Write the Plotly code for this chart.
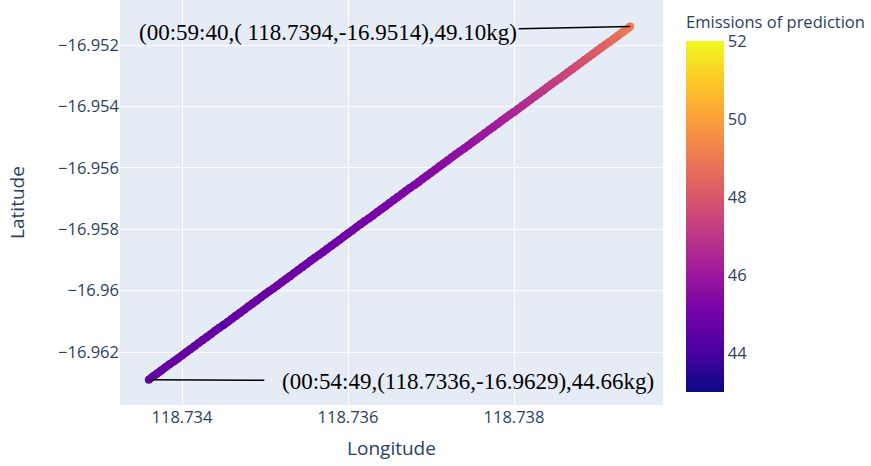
import plotly.graph_objects as go
from plotly.colors import sample_colorscale

# Track segment: longitude / latitude fixes and predicted emissions (kg)
longitude = [
    118.73360, 118.73365, 118.73370, 118.73375, 118.73380, 118.73385, 118.73390, 118.73395,
    118.73400, 118.73405, 118.73410, 118.73415, 118.73420, 118.73425, 118.73430, 118.73435,
    118.73440, 118.73445, 118.73450, 118.73455, 118.73460, 118.73465, 118.73470, 118.73475,
    118.73480, 118.73485, 118.73490, 118.73495, 118.73500, 118.73505, 118.73510, 118.73515,
    118.73520, 118.73525, 118.73530, 118.73535, 118.73540, 118.73545, 118.73550, 118.73555,
    118.73560, 118.73565, 118.73570, 118.73575, 118.73580, 118.73585, 118.73590, 118.73595,
    118.73600, 118.73605, 118.73610, 118.73615, 118.73620, 118.73625, 118.73630, 118.73635,
    118.73640, 118.73645, 118.73650, 118.73655, 118.73660, 118.73665, 118.73670, 118.73675,
    118.73680, 118.73685, 118.73690, 118.73695, 118.73700, 118.73705, 118.73710, 118.73715,
    118.73720, 118.73725, 118.73730, 118.73735, 118.73740, 118.73745, 118.73750, 118.73755,
    118.73760, 118.73765, 118.73770, 118.73775, 118.73780, 118.73785, 118.73790, 118.73795,
    118.73800, 118.73805, 118.73810, 118.73815, 118.73820, 118.73825, 118.73830, 118.73835,
    118.73840, 118.73845, 118.73850, 118.73855, 118.73860, 118.73865, 118.73870, 118.73875,
    118.73880, 118.73885, 118.73890, 118.73895, 118.73900, 118.73905, 118.73910, 118.73915,
    118.73920, 118.73925, 118.73930, 118.73935, 118.73940,
]

latitude = [
    -16.96290, -16.96280, -16.96270, -16.96260, -16.96250, -16.96240, -16.96231, -16.96221,
    -16.96211, -16.96201, -16.96191, -16.96181, -16.96171, -16.96161, -16.96151, -16.96141,
    -16.96131, -16.96121, -16.96112, -16.96102, -16.96092, -16.96082, -16.96072, -16.96062,
    -16.96052, -16.96042, -16.96032, -16.96022, -16.96012, -16.96002, -16.95993, -16.95983,
    -16.95973, -16.95963, -16.95953, -16.95943, -16.95933, -16.95923, -16.95913, -16.95903,
    -16.95893, -16.95884, -16.95874, -16.95864, -16.95854, -16.95844, -16.95834, -16.95824,
    -16.95814, -16.95804, -16.95794, -16.95784, -16.95774, -16.95765, -16.95755, -16.95745,
    -16.95735, -16.95725, -16.95715, -16.95705, -16.95695, -16.95685, -16.95675, -16.95665,
    -16.95656, -16.95646, -16.95636, -16.95626, -16.95616, -16.95606, -16.95596, -16.95586,
    -16.95576, -16.95566, -16.95556, -16.95546, -16.95537, -16.95527, -16.95517, -16.95507,
    -16.95497, -16.95487, -16.95477, -16.95467, -16.95457, -16.95447, -16.95437, -16.95427,
    -16.95418, -16.95408, -16.95398, -16.95388, -16.95378, -16.95368, -16.95358, -16.95348,
    -16.95338, -16.95328, -16.95318, -16.95309, -16.95299, -16.95289, -16.95279, -16.95269,
    -16.95259, -16.95249, -16.95239, -16.95229, -16.95219, -16.95209, -16.95199, -16.95190,
    -16.95180, -16.95170, -16.95160, -16.95150, -16.95140,
]

emissions = [
    44.66, 44.66, 44.67, 44.67, 44.68, 44.67, 44.68, 44.69,
    44.69, 44.70, 44.70, 44.71, 44.71, 44.72, 44.72, 44.73,
    44.74, 44.74, 44.12, 44.75, 44.76, 44.76, 44.77, 44.78,
    44.78, 44.79, 44.80, 44.80, 44.81, 44.82, 44.83, 44.83,
    44.84, 44.85, 44.86, 44.87, 44.88, 44.89, 44.90, 44.91,
    44.92, 44.93, 44.94, 44.95, 44.96, 44.97, 44.99, 45.00,
    45.01, 45.03, 45.04, 45.06, 45.07, 45.09, 45.10, 45.12,
    45.14, 45.16, 45.18, 45.20, 45.22, 45.24, 45.26, 45.29,
    45.31, 45.34, 45.37, 45.40, 45.43, 45.46, 45.50, 45.54,
    45.58, 45.62, 45.66, 45.71, 45.75, 45.80, 45.85, 45.90,
    45.95, 46.01, 46.07, 46.13, 46.19, 46.26, 46.33, 46.40,
    46.47, 46.54, 46.61, 46.68, 46.75, 46.82, 46.90, 46.98,
    47.06, 47.14, 47.22, 47.30, 47.39, 47.48, 47.57, 47.66,
    47.76, 47.86, 47.96, 48.06, 48.16, 48.27, 48.38, 48.49,
    48.60, 48.72, 48.84, 48.97, 49.10,
]

# Clock times of the first and last fix
start_time = "00:54:49"
end_time = "00:59:40"

CMIN, CMAX = 43, 52

fig = go.Figure()

# Thick band between consecutive fixes, each piece coloured by its mean emission
for i in range(len(longitude) - 1):
    mid = (emissions[i] + emissions[i + 1]) / 2
    col = sample_colorscale("Plasma", [(mid - CMIN) / (CMAX - CMIN)])[0]
    fig.add_trace(go.Scatter(
        x=longitude[i:i + 2], y=latitude[i:i + 2], mode="lines",
        line=dict(color=col, width=8), hoverinfo="skip", showlegend=False,
    ))

fig.add_trace(go.Scatter(
    x=longitude,
    y=latitude,
    mode="markers",
    marker=dict(
        size=8,
        color=emissions,
        colorscale="Plasma",
        cmin=CMIN,
        cmax=CMAX,
        showscale=True,
        colorbar=dict(
            title=dict(text="Emissions of prediction", side="top",
                       font=dict(size=16.5)),
            x=1.037,
            thickness=38,
            xpad=3,
            ypad=13,
            dtick=2,
            outlinewidth=0,
            tickfont=dict(size=16.5),
        ),
    ),
    showlegend=False,
))

serif = dict(family="Liberation Serif, Times New Roman, serif", size=23, color="black")

end_label = f"({end_time},( {longitude[-1]:.4f},{latitude[-1]:.4f}),{emissions[-1]:.2f}kg)"
start_label = f"({start_time},({longitude[0]:.4f},{latitude[0]:.4f}),{emissions[0]:.2f}kg)"

fig.add_annotation(
    x=longitude[-1], y=latitude[-1], text=end_label,
    showarrow=True, arrowhead=0, arrowwidth=1.5, arrowcolor="black",
    ax=-302, ay=6, font=serif,
)
fig.add_annotation(
    x=longitude[0], y=latitude[0], text=start_label,
    showarrow=True, arrowhead=0, arrowwidth=1.5, arrowcolor="black",
    ax=319, ay=2, font=serif, startstandoff=16,
)

fig.update_layout(
    width=871,
    height=466,
    margin=dict(l=120, r=208, t=0, b=61),
    font=dict(size=16.5),
    xaxis=dict(
        title=dict(text="Longitude", font=dict(size=19)),
        range=[118.733253, 118.739795],
        dtick=0.002,
        tickfont=dict(size=16.5),
    ),
    yaxis=dict(
        title=dict(text="Latitude", font=dict(size=19), standoff=28),
        range=[-16.963726, -16.950534],
        dtick=0.002,
        tickfont=dict(size=16.5),
    ),
)

fig.write_html("out.html")
